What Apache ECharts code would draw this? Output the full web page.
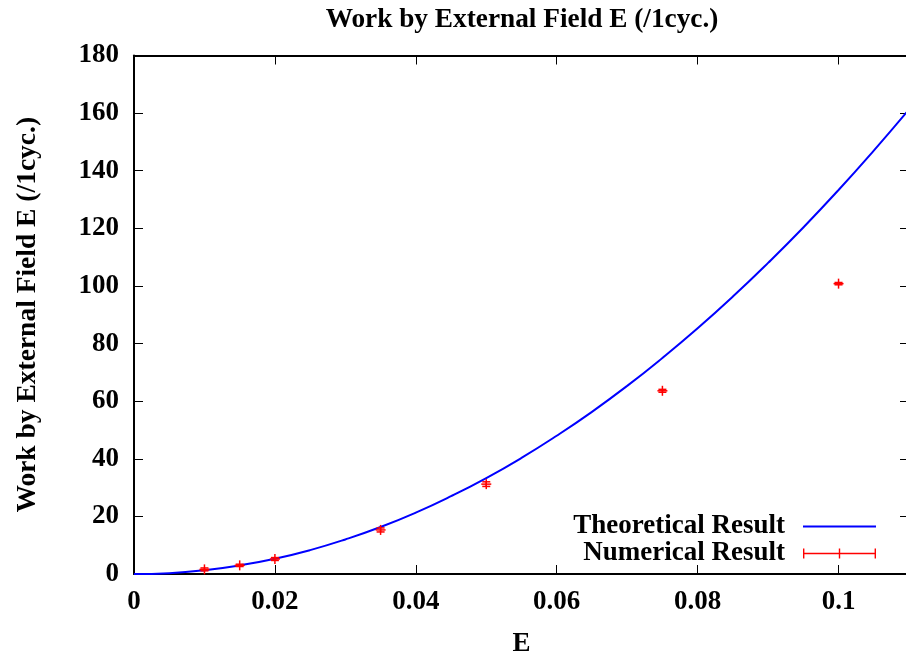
<!DOCTYPE html>
<html>
<head>
<meta charset="utf-8">
<script src="https://cdn.jsdelivr.net/npm/echarts@6/dist/echarts.min.js"></script>
<style>html,body{margin:0;padding:0;background:#fff}#c{width:906px;height:661px}</style>
</head>
<body>
<div id="c"></div>
<script>
// Theoretical curve
var theoE = [0, 0.005, 0.01, 0.015, 0.02, 0.025, 0.03, 0.035, 0.04, 0.045, 0.05, 0.055, 0.06, 0.065, 0.07, 0.075, 0.08, 0.085, 0.09, 0.095, 0.1, 0.105, 0.11];
var theoW = [0, 0.3, 1.3, 3.0, 5.3, 8.3, 12.0, 16.3, 21.3, 27.0, 33.3, 40.3, 48.0, 56.3, 65.3, 75.0, 85.3, 96.3, 108.0, 120.3, 133.3, 147.0, 161.3];
// Numerical results with error
var numE = [0.01, 0.015, 0.02, 0.035, 0.05, 0.075, 0.1];
var numW = [1.6, 3.0, 5.2, 15.3, 31.2, 63.6, 100.8];
var numErr = [0.5, 0.4, 0.5, 0.7, 0.8, 0.5, 0.4];

var FONT = "'Liberation Serif','Times New Roman',serif";
var chart = echarts.init(document.getElementById('c'));

var theoData = theoE.map(function (e, i) { return [e, theoW[i]]; });
var numData = numE.map(function (e, i) { return [e, numW[i], numW[i] - numErr[i], numW[i] + numErr[i]]; });

var tickStyle = { show: true, inside: true, length: 9, lineStyle: { color: '#000', width: 1 } };
var lineStyle = { show: true, onZero: false, lineStyle: { color: '#000', width: 2 } };
function lab(sz) { return { fontFamily: FONT, fontWeight: 'bold', fontSize: sz, color: '#000' }; }

chart.setOption({
  animation: false,
  backgroundColor: '#fff',
  title: {
    text: 'Work by External Field E (/1cyc.)',
    left: 517,
    textAlign: 'center',
    top: 1,
    textStyle: lab(27.3)
  },
  grid: { left: 134, top: 55.5, width: 775, height: 518.5, outerBoundsMode: 'none', containLabel: false },
  legend: {
    orient: 'vertical',
    right: 25,
    top: 508,
    align: 'right',
    itemGap: 0,
    itemWidth: 73,
    itemHeight: 10,
    textStyle: { fontFamily: FONT, fontWeight: 'bold', fontSize: 27, color: '#000', lineHeight: 27, padding: [0, 13, 0, 0] },
    data: [
      { name: 'Theoretical Result', icon: 'path://M0,0H73V2H0Z',
        itemStyle: { color: '#0000ff', borderColor: '#0000ff', borderWidth: 0, opacity: 1 } },
      { name: 'Numerical Result', icon: 'path://M0,4.3H73V5.7H0Z M0,0H1.4V10H0Z M35.8,0H37.2V10H35.8Z M71.6,0H73V10H71.6Z',
        itemStyle: { color: '#ff0000', borderColor: '#ff0000', borderWidth: 0, opacity: 1 } }
    ]
  },
  xAxis: [{
    type: 'value', min: 0, max: 0.11, interval: 0.02,
    name: 'E', nameLocation: 'middle', nameGap: 57,
    nameTextStyle: lab(27),
    axisLine: lineStyle, axisTick: tickStyle, splitLine: { show: false },
    axisLabel: Object.assign({ margin: 15, showMaxLabel: false, formatter: function (v) { return String(+v.toFixed(2)); } }, lab(27))
  }, {
    type: 'value', position: 'top', min: 0, max: 0.11, interval: 0.02,
    axisLine: lineStyle, axisTick: tickStyle, splitLine: { show: false }, axisLabel: { show: false }
  }],
  yAxis: [{
    type: 'value', min: 0, max: 180, interval: 20,
    name: 'Work by External Field E (/1cyc.)', nameLocation: 'middle', nameGap: 92,
    nameTextStyle: lab(27.5),
    axisLine: lineStyle, axisTick: tickStyle, splitLine: { show: false },
    axisLabel: Object.assign({ margin: 15 }, lab(27))
  }, {
    type: 'value', position: 'right', min: 0, max: 180, interval: 20,
    axisLine: lineStyle, axisTick: tickStyle, splitLine: { show: false }, axisLabel: { show: false }
  }],
  series: [{
    name: 'Theoretical Result',
    type: 'line',
    data: theoData,
    smooth: true,
    symbol: 'none',
    lineStyle: { color: '#0000ff', width: 2 },
    itemStyle: { color: '#0000ff' },
    z: 3
  }, {
    name: 'Numerical Result',
    type: 'custom',
    data: numData,
    itemStyle: { color: '#ff0000' },
    encode: { x: 0, y: [1, 2, 3] },
    z: 4,
    renderItem: function (params, api) {
      var x = api.value(0);
      var c = api.coord([x, api.value(1)]);
      var lo = api.coord([x, api.value(2)]);
      var hi = api.coord([x, api.value(3)]);
      var st = { stroke: '#ff0000', lineWidth: 1.5 };
      var cap = 4, ps = 5;
      return {
        type: 'group',
        children: [
          { type: 'line', shape: { x1: lo[0], y1: lo[1], x2: hi[0], y2: hi[1] }, style: st },
          { type: 'line', shape: { x1: lo[0] - cap, y1: lo[1], x2: lo[0] + cap, y2: lo[1] }, style: st },
          { type: 'line', shape: { x1: hi[0] - cap, y1: hi[1], x2: hi[0] + cap, y2: hi[1] }, style: st },
          { type: 'line', shape: { x1: c[0] - ps, y1: c[1], x2: c[0] + ps, y2: c[1] }, style: st },
          { type: 'line', shape: { x1: c[0], y1: c[1] - ps, x2: c[0], y2: c[1] + ps }, style: st }
        ]
      };
    }
  }]
});
</script>
</body>
</html>
